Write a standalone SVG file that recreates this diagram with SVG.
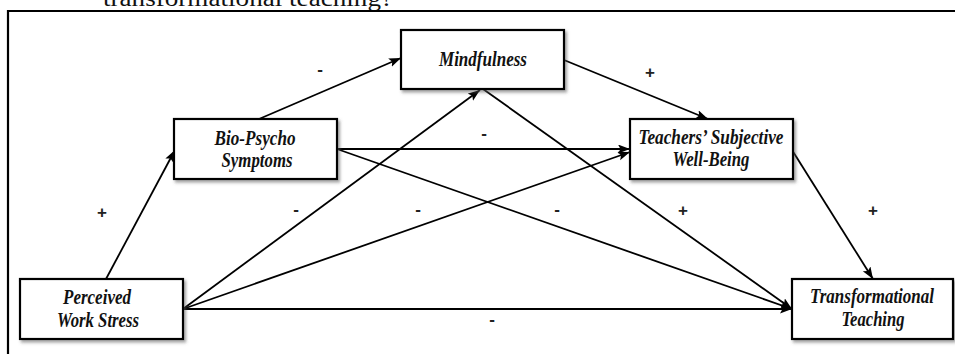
<svg xmlns="http://www.w3.org/2000/svg" width="955" height="354" viewBox="0 0 955 354">
<style>
.box{fill:#fff;stroke:#000;stroke-width:2.2;filter:url(#sh)}
.lbl{font-family:"Liberation Serif","Times New Roman",serif;font-weight:bold;font-style:italic;font-size:20px;fill:#111;text-anchor:middle}
.sign{font-family:"Liberation Sans",Arial,sans-serif;font-weight:bold;font-size:17px;fill:#222;text-anchor:middle}
.con line{stroke:#000;stroke-width:1.8;marker-end:url(#ah)}
.cap{font-family:"Liberation Serif","Times New Roman",serif;font-size:24px;fill:#111}
</style>
<defs>
<filter id="sh" x="-10%" y="-10%" width="125%" height="130%">
<feDropShadow dx="2" dy="2.5" stdDeviation="1.5" flood-color="#555" flood-opacity="0.55"/>
</filter>
<marker id="ah" markerUnits="userSpaceOnUse" markerWidth="14" markerHeight="10" refX="12" refY="4.5" orient="auto">
<path d="M0,0 L12,4.5 L0,9 L2.5,4.5 z" fill="#000"/>
</marker>
</defs>
<rect width="955" height="354" fill="#fff"/>
<text class="cap" x="103" y="6" textLength="290" lengthAdjust="spacingAndGlyphs">transformational teaching?</text>
<path d="M8,354 V11 H955" fill="none" stroke="#000" stroke-width="2.2"/>
<g id="connectors" class="con">
<line x1="106" y1="279" x2="175" y2="150"/>
<line x1="259" y1="119" x2="401" y2="58"/>
<line x1="564" y1="60" x2="708" y2="119"/>
<line x1="337" y1="149" x2="630" y2="149"/>
<line x1="337" y1="149" x2="792" y2="309"/>
<line x1="483" y1="89" x2="792" y2="309"/>
<line x1="183" y1="309" x2="480" y2="90"/>
<line x1="183" y1="309" x2="630" y2="152"/>
<line x1="183" y1="309" x2="792" y2="309"/>
<line x1="792" y1="150" x2="873" y2="279"/>
</g>
<g id="signs">
<text class="sign" x="102" y="218">+</text>
<text class="sign" x="320" y="75">-</text>
<text class="sign" x="650" y="78">+</text>
<text class="sign" x="484" y="139">-</text>
<text class="sign" x="296" y="215">-</text>
<text class="sign" x="418" y="215">-</text>
<text class="sign" x="557" y="215">-</text>
<text class="sign" x="683" y="216">+</text>
<text class="sign" x="873" y="216">+</text>
<text class="sign" x="492" y="325">-</text>
</g>
<g id="mindfulness">
<rect class="box" x="401" y="30" width="163" height="59"/>
<text class="lbl" x="483" y="66" textLength="88" lengthAdjust="spacingAndGlyphs">Mindfulness</text>
</g>
<g id="bio-psycho">
<rect class="box" x="174" y="119" width="163" height="60"/>
<text class="lbl" x="255" y="145" textLength="81" lengthAdjust="spacingAndGlyphs">Bio-Psycho</text>
<text class="lbl" x="257" y="167" textLength="71" lengthAdjust="spacingAndGlyphs">Symptoms</text>
</g>
<g id="tswb">
<rect class="box" x="630" y="119" width="163" height="60"/>
<text class="lbl" x="711" y="144" textLength="145" lengthAdjust="spacingAndGlyphs">Teachers’ Subjective</text>
<text class="lbl" x="711" y="166" textLength="77" lengthAdjust="spacingAndGlyphs">Well-Being</text>
</g>
<g id="pws">
<rect class="box" x="20" y="279" width="163" height="60"/>
<text class="lbl" x="97" y="304" textLength="68" lengthAdjust="spacingAndGlyphs">Perceived</text>
<text class="lbl" x="98" y="327" textLength="82" lengthAdjust="spacingAndGlyphs">Work Stress</text>
</g>
<g id="tt">
<rect class="box" x="792" y="279" width="161" height="60"/>
<text class="lbl" x="872" y="303" textLength="124" lengthAdjust="spacingAndGlyphs">Transformational</text>
<text class="lbl" x="873" y="326" textLength="63" lengthAdjust="spacingAndGlyphs">Teaching</text>
</g>
</svg>
